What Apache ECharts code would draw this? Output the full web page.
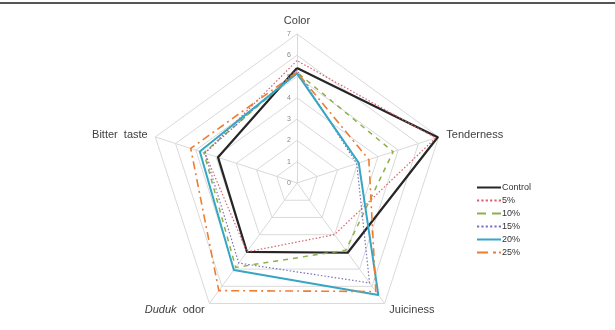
<!DOCTYPE html>
<html>
<head>
<meta charset="utf-8">
<script src="https://cdn.jsdelivr.net/npm/echarts@6/dist/echarts.min.js"></script>
<style>
html, body { margin: 0; padding: 0; background: #fff; }
#main { width: 615px; height: 330px; }
</style>
</head>
<body>
<div id="main"></div>
<script>
// indicators in counter-clockwise order (echarts draws them that way)
var indicatorNames = ['Color', 'Bitter taste', 'Duduk odor', 'Juiciness', 'Tenderness'];
var tickLabels = ['0', '1', '2', '3', '4', '5', '6', '7'];
var seriesNames = ['Control', '5%', '10%', '15%', '20%', '25%'];

// values: Color, Bitter taste, Duduk odor, Juiciness, Tenderness
var control = [5.4, 3.9, 4.0, 4.05, 6.95];
var pct5 = [5.75, 4.55, 4.0, 3.0, 6.85];
var pct10 = [5.2, 4.6, 4.9, 3.9, 4.75];
var pct15 = [5.3, 4.55, 4.65, 5.8, 2.95];
var pct20 = [5.15, 4.8, 5.05, 6.5, 3.05];
var pct25 = [5.2, 5.25, 6.25, 6.3, 3.55];

var myChart = echarts.init(document.getElementById('main'));

var styles = [
    { color: '#262626', width: 2.2, type: 'solid' },
    { color: '#d9606a', width: 1.2, type: [1.5, 2] },
    { color: '#8cb04a', width: 1.5, type: [5, 5] },
    { color: '#7a72b8', width: 1.2, type: [1.5, 2] },
    { color: '#35a6c4', width: 2, type: 'solid' },
    { color: '#ed7d31', width: 1.6, type: [8, 4, 2, 4] }
];
var values = [control, pct5, pct10, pct15, pct20, pct25];

// legend icons drawn in a 24x2 box
function dots() {
    var p = 'path://';
    for (var x = 0; x < 24; x += 4) p += 'M' + x + ',0h2v2h-2z';
    return p;
}
var icons = [
    'path://M0,0h24v2h-24z',
    dots(),
    'path://M0,0h9v2h-9zM15,0h9v2h-9z',
    dots(),
    'path://M0,0h24v2h-24z',
    'path://M0,0h11v2h-11zM16,0h3v2h-3zM22,0h2v2h-2z'
];

var seriesData = seriesNames.map(function (name, i) {
    return {
        name: name,
        value: values[i],
        symbol: 'none',
        lineStyle: styles[i],
        itemStyle: { color: styles[i].color }
    };
});

option = {
    animation: false,
    graphic: [{
        type: 'line',
        shape: { x1: 0, y1: 3, x2: 615, y2: 3 },
        style: { stroke: '#555', lineWidth: 2 }
    }],
    legend: {
        orient: 'vertical',
        left: 472,
        top: 178,
        itemWidth: 24,
        itemHeight: 2,
        itemGap: 4,
        symbolKeepAspect: false,
        textStyle: { fontSize: 9, color: '#333', fontFamily: 'Liberation Sans', padding: [0, 0, 0, -4] },
        data: seriesNames.map(function (n, i) {
            return { name: n, icon: icons[i], itemStyle: { color: styles[i].color, borderWidth: 0 } };
        })
    },
    radar: {
        center: [297, 183],
        radius: 149,
        shape: 'polygon',
        splitNumber: 7,
        nameGap: 8,
        axisName: {
            color: '#404040',
            fontSize: 11,
            fontFamily: 'Liberation Sans',
            formatter: function (v) {
                return v === 'Duduk odor' ? '{i|Duduk}  odor' : (v === 'Bitter taste' ? 'Bitter  taste' : v);
            },
            rich: {
                i: { fontStyle: 'italic', color: '#404040', fontSize: 11, fontFamily: 'Liberation Sans' }
            }
        },
        axisLine: { lineStyle: { color: '#d9d9d9', width: 1 } },
        splitLine: { lineStyle: { color: '#d9d9d9', width: 1 } },
        splitArea: { show: false },
        axisLabel: { show: false },
        indicator: indicatorNames.map(function (n, i) {
            var ind = { name: n, min: 0, max: 7 };
            if (i === 0) {
                ind.axisLabel = {
                    show: true,
                    color: '#888',
                    fontSize: 7,
                    margin: 6,
                    formatter: function (v) { return tickLabels[Math.round(v)]; }
                };
            }
            return ind;
        })
    },
    series: [{
        type: 'radar',
        data: seriesData
    }]
};

myChart.setOption(option);
</script>
</body>
</html>
